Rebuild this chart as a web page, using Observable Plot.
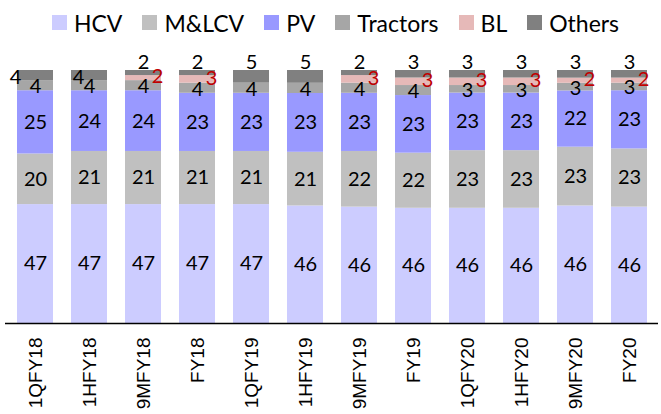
<!DOCTYPE html>
<html>
<head>
<meta charset="utf-8">
<script src="https://cdn.jsdelivr.net/npm/d3@7"></script>
<script src="https://cdn.jsdelivr.net/npm/@observablehq/plot@0.6"></script>
<style>
  html, body { margin: 0; padding: 0; background: #fff; }
  #legend { height: 40px; box-sizing: border-box; padding-top: 5px; padding-left: 10px;
    display: flex; align-items: center; justify-content: center; gap: 20px;
    font-family: Lato, sans-serif; font-size: 23px; color: #000; }
  .item { display: flex; align-items: center; gap: 7px; }
  .sw { width: 15px; height: 15px; }
  #chart svg { display: block; }
</style>
</head>
<body>
<div id="legend"></div>
<div id="chart"></div>
<script>
const categories = ["1QFY18","1HFY18","9MFY18","FY18","1QFY19","1HFY19","9MFY19","FY19","1QFY20","1HFY20","9MFY20","FY20"];
const series = ["HCV","M&LCV","PV","Tractors","BL","Others"];
const colors = ["#ccccff","#c0c0c0","#9999ff","#a6a6a6","#e6b9b8","#808080"];
const HCV      = [47,47,47,47,47,46,46,46,46,46,46,46];
const MLCV     = [20,21,21,21,21,21,22,22,23,23,23,23];
const PV       = [25,24,24,23,23,23,23,23,23,23,22,23];
const Tractors = [4,4,4,4,4,4,4,4,3,3,3,3];
const BL       = [0,0,2,3,0,0,3,3,3,3,2,2];
const Others   = [4,4,2,2,5,5,2,3,3,3,3,3];

const seriesValues = [HCV, MLCV, PV, Tractors, BL, Others];
const rows = [];
categories.forEach((c, i) => {
  series.forEach((s, j) => rows.push({cat: c, idx: i, series: s, value: seriesValues[j][i]}));
});

// legend
const legend = document.getElementById("legend");
series.forEach((s, j) => {
  const it = document.createElement("div");
  it.className = "item";
  const sw = document.createElement("div");
  sw.className = "sw";
  sw.style.background = colors[j];
  const t = document.createElement("span");
  t.textContent = s;
  it.append(sw, t);
  legend.append(it);
});

const base = {x: "cat", y: "value", z: "series", offset: "normalize"};
const lbl = (f) => Plot.stackY({...base, text: d => f(d) ? d.value : null});
const txt = {fontFamily: "Lato, sans-serif", fontSize: 20, fill: "#000"};

const chart = Plot.plot({
  width: 661,
  height: 374,
  marginTop: 30,
  marginBottom: 91,
  marginLeft: 5,
  marginRight: 3,
  style: {fontFamily: "Lato, sans-serif", fontSize: "20px", overflow: "visible", background: "#fff"},
  x: {type: "band", domain: categories, paddingInner: 0.34, paddingOuter: 0.17, label: null},
  y: {domain: [0, 1], axis: null},
  color: {domain: series, range: colors},
  marks: [
    Plot.barY(rows, Plot.stackY({...base, fill: "series", inset: 0})),
    Plot.text(rows, {...lbl(d => ["HCV","M&LCV","PV"].includes(d.series)), ...txt}),
    Plot.text(rows, {...lbl(d => d.series === "Tractors"), ...txt, dy: 1}),
    Plot.text(rows, {...lbl(d => d.series === "BL" && d.value > 0), ...txt, fill: "#c00000", dx: 14, dy: -1}),
    Plot.text(rows, {...Plot.stackY2({...base, text: d => d.series === "Others" && d.idx >= 2 ? d.value : null}), ...txt, dy: -8}),
    Plot.text(rows, {...lbl(d => d.series === "Others" && d.idx === 0), ...txt, dx: -20, dy: 2}),
    Plot.text(rows, {...lbl(d => d.series === "Others" && d.idx === 1), ...txt, dx: -11, dy: 2}),
    Plot.ruleY([0], {stroke: "#000", strokeWidth: 1.5}),
    Plot.axisX({tickSize: 0, tickPadding: 14, tickRotate: -90, fontSize: 19, fontFamily: "'Liberation Sans', Arial, sans-serif", fill: "#000", label: null})
  ]
});
document.getElementById("chart").append(chart);
</script>
</body>
</html>
